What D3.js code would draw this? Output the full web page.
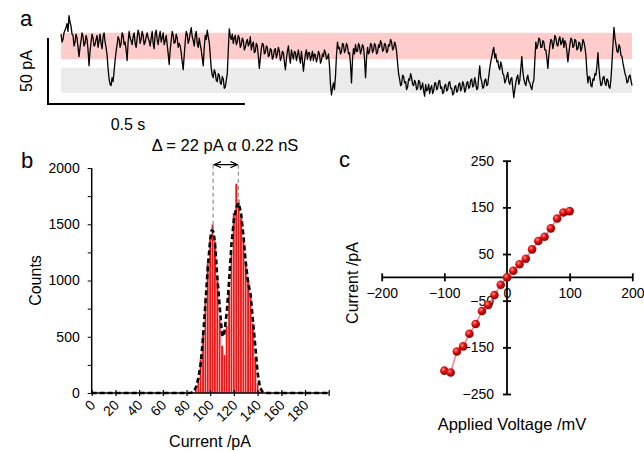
<!DOCTYPE html>
<html>
<head>
<meta charset="utf-8">
<script src="https://cdn.jsdelivr.net/npm/d3@7"></script>
<style>
  body { margin: 0; background: #fff; }
  svg text { font-family: "Liberation Sans", Arial, sans-serif; fill: #000; }
</style>
</head>
<body>
<div id="visual"></div>
<script>

// panel a - current trace (pA), equally spaced samples over traceDuration seconds
var traceDuration = 1.45;
var traceCurrent = [
    134, 128, 130, 135, 137, 139, 142, 136, 148, 143, 140, 134, 133, 125, 128, 134,
    131, 124, 117, 124, 129, 135, 132, 125, 127, 133, 130, 122, 110, 121, 128, 134,
    131, 125, 126, 130, 133, 124, 129, 134, 127, 123, 132, 135, 128, 124, 118, 108,
    100, 96, 95, 101, 98, 106, 114, 121, 126, 132, 130, 124, 127, 135, 133, 126,
    128, 122, 114, 128, 136, 131, 129, 126, 132, 135, 127, 124, 131, 137, 134, 127,
    130, 136, 133, 126, 128, 132, 135, 131, 129, 125, 131, 136, 127, 123, 134, 137,
    130, 126, 132, 136, 128, 131, 135, 126, 129, 133, 126, 119, 111, 122, 129, 136,
    133, 127, 128, 134, 131, 124, 127, 125, 120, 113, 107, 118, 128, 136, 134, 127,
    130, 135, 139, 132, 129, 125, 133, 136, 127, 124, 131, 126, 122, 116, 110, 124,
    133, 130, 137, 132, 128, 118,
    108, 103, 101, 107, 105, 99, 98, 104, 103, 97, 96, 102, 100, 93, 94, 99,
    104, 122, 138, 132, 130, 134, 127, 131, 133, 126, 128, 133, 131, 124, 126, 131,
    129, 122, 124, 128, 130, 125, 127, 132, 122, 126, 128, 120, 121, 127, 125, 117,
    108, 116, 123, 127, 126, 119, 120, 125, 124, 117, 118, 123, 122, 115, 117, 122,
    123, 116, 119, 124, 121, 114, 116, 121, 120, 113, 107, 115, 121, 125, 117, 112,
    122, 118, 115, 121, 120, 114, 118, 122, 116, 112, 121, 114, 106, 113, 119, 122,
    115, 120, 120, 114, 117, 121, 114, 119, 118, 113, 116, 121, 119, 112, 114, 119,
    117, 122, 120, 115, 116, 119, 110, 96, 88, 93, 97, 92, 102, 118, 128, 123,
    124, 119, 121, 127, 126, 120, 122, 127, 125, 119, 120, 111, 97, 115, 123, 119,
    126, 121, 121, 127, 125, 119, 122, 126, 124, 115, 101, 116, 124, 119, 121, 127,
    126, 120, 122, 127, 125, 119, 120, 126, 124, 129, 127, 121, 122, 127, 126, 120,
    121, 126, 125, 130, 128, 122, 123, 128, 126, 121, 112, 104, 100, 95, 96, 103,
    102, 97, 98, 92, 94, 100, 99, 104, 101, 96, 95, 99, 97, 92, 93, 99,
    98, 92, 94, 97, 91, 87, 96, 91, 92, 96, 89, 93, 95, 89, 91, 97,
    97, 92, 93, 98, 99, 93, 94, 89, 90, 95, 96, 91, 92, 97, 98, 93,
    93, 88, 89, 94, 95, 90, 91, 96, 97, 91, 93, 98, 96, 90, 92, 97,
    98, 93, 94, 99, 100, 94, 95, 101, 97, 92, 93, 102, 110, 101, 98, 93,
    94, 99, 100, 95, 96, 102, 108, 113, 117, 121, 124, 116, 119, 113, 114, 109,
    107, 113, 110, 104, 103, 97, 99, 102, 105, 98, 96, 100, 101, 93, 86, 92,
    97, 101, 103, 96, 99, 108, 117, 106, 100, 97, 95, 100, 103, 98, 97, 94,
    92, 97, 99, 114, 128, 123, 126, 131, 130, 124, 124, 129, 128, 122, 122, 116,
    108, 118, 125, 130, 129, 123, 127, 133, 131, 126, 125, 130, 132, 126, 128, 131,
    124, 129, 127, 121, 113, 120, 126, 131, 130, 124, 125, 130, 129, 122, 123, 128,
    127, 121, 124, 130, 128, 124, 118, 105, 97, 102, 101, 95, 94, 100, 99, 104,
    103, 110, 120, 108, 100, 95, 96, 101, 102, 97, 95, 100, 99, 94, 93, 100,
    112, 126, 139, 131, 126, 121, 120, 126, 124, 118, 117, 112, 108, 104, 102, 97,
    98, 102, 103, 99, 95
];
var openBand = [115, 135];
var closedBand = [89.5, 108.5];
var scaleBarCurrent = 50;   // pA
var scaleBarTime = 0.5;     // s

// panel b - histogram (2 pA bins, centre values) and fitted curve
var histCentres = [88, 90, 92, 94, 96, 98, 100, 102, 104, 106, 108, 110, 112, 114,
    116, 118, 120, 122, 124, 126, 128, 130, 132, 134, 136, 138, 140, 142];
var histCounts = [30, 120, 300, 550, 850, 1150, 1380, 1500, 1350, 1000, 650, 420, 340, 600,
    900, 1250, 1600, 1860, 1720, 1550, 1350, 1150, 1000, 850, 620, 320, 90, 15];
var fitCurrent = [0, 80, 84, 86, 88, 90, 92, 94, 96, 98, 100, 101, 102, 103, 104, 106, 108,
    110, 111, 112, 114, 116, 118, 120, 122, 124, 126, 128, 130, 132, 134, 136, 138, 140,
    142, 144, 146, 150, 200];
var fitCounts = [0, 0, 2, 10, 50, 130, 260, 500, 800, 1120, 1360, 1440, 1450, 1420, 1330,
    1030, 770, 520, 500, 540, 720, 1000, 1330, 1540, 1650, 1690, 1600, 1400, 1160, 980,
    880, 650, 420, 180, 50, 12, 0, 0, 0];
var peakLeft = 102.5, peakRight = 123.8;
var histXTicks = [0, 20, 40, 60, 80, 100, 120, 140, 160, 180, 200];
var histYTicks = [0, 250, 500, 750, 1000, 1250, 1500, 1750, 2000];
var histTitle = "\u0394 = 22 pA \u03b1 0.22 nS";

// panel c - I/V
var voltage = [-100, -90, -80, -70, -60, -50, -40, -30, -20, -10, 0,
    10, 20, 30, 40, 50, 60, 70, 80, 90, 100];
var ivCurrent = [-200, -204, -159, -148, -121, -100, -72, -59, -38, -16, 0,
    14, 28, 40, 60, 78, 87, 105, 126, 139, 142];
var ivXTicks = [-200, -100, 0, 100, 200];
var ivYTicks = [-250, -150, -50, 50, 150, 250];


function chart() {

    var w = 644, h = 451;
    var svg = d3.select("#visual").append("svg").attr("width", w).attr("height", h);

    var defs = svg.append("defs");
    var grad = defs.append("radialGradient").attr("id", "ball")
        .attr("cx", "38%").attr("cy", "35%").attr("r", "65%");
    grad.append("stop").attr("offset", "0%").attr("stop-color", "#ff8a8a");
    grad.append("stop").attr("offset", "45%").attr("stop-color", "#e31010");
    grad.append("stop").attr("offset", "100%").attr("stop-color", "#8a0000");

    // ---------- panel a ----------
    var ax = d3.scaleLinear().domain([0, traceDuration]).range([61, 632]);
    var ay = d3.scaleLinear().domain([75, 150]).range([112, 13]);

    svg.append("rect")
        .attr("x", ax(0)).attr("width", ax(traceDuration) - ax(0))
        .attr("y", ay(openBand[1])).attr("height", ay(openBand[0]) - ay(openBand[1]))
        .style("fill", "#ffcccc");
    svg.append("rect")
        .attr("x", ax(0)).attr("width", ax(traceDuration) - ax(0))
        .attr("y", ay(closedBand[1])).attr("height", ay(closedBand[0]) - ay(closedBand[1]))
        .style("fill", "#ebebeb");

    var dt = traceDuration / (traceCurrent.length - 1);
    var traceLine = d3.line()
        .x(function (d, i) { return ax(i * dt); })
        .y(function (d) { return ay(d); });

    svg.append("path")
        .datum(traceCurrent)
        .attr("d", traceLine)
        .attr("fill", "none")
        .attr("stroke", "#000")
        .attr("stroke-width", 1.3)
        .attr("stroke-linejoin", "round");

    // scale bars
    var barX = 48, barBottom = ay(81);
    svg.append("line")
        .attr("x1", barX).attr("x2", barX)
        .attr("y1", barBottom).attr("y2", ay(81 + scaleBarCurrent))
        .attr("stroke", "#000").attr("stroke-width", 2);
    svg.append("line")
        .attr("x1", barX - 1).attr("x2", barX + ax(scaleBarTime) - ax(0))
        .attr("y1", barBottom).attr("y2", barBottom)
        .attr("stroke", "#000").attr("stroke-width", 2);
    svg.append("text")
        .attr("transform", "translate(32," + (ay(81 + scaleBarCurrent / 2)) + ") rotate(-90)")
        .attr("text-anchor", "middle")
        .attr("font-size", "16px")
        .text(scaleBarCurrent + " pA");
    svg.append("text")
        .attr("x", 128).attr("y", 130)
        .attr("text-anchor", "middle")
        .attr("font-size", "16px")
        .text(scaleBarTime + " s");
    svg.append("text").attr("x", 20).attr("y", 26).attr("font-size", "22px").text("a");

    // ---------- panel b ----------
    var bx = d3.scaleLinear().domain([0, 200]).range([91.7, 328.7]);
    var by = d3.scaleLinear().domain([0, 2000]).range([393, 168]);
    var binW = 2;

    svg.selectAll("rect.bin")
        .data(histCounts)
        .enter()
        .append("rect")
        .attr("class", "bin")
        .attr("x", function (d, i) { return bx(histCentres[i] - binW / 2); })
        .attr("width", bx(binW) - bx(0))
        .attr("y", function (d) { return by(d); })
        .attr("height", function (d) { return by(0) - by(d); })
        .style("fill", "#f01414")
        .style("stroke", "#ffd0d0")
        .style("stroke-width", 0.5);

    var fitLine = d3.line()
        .x(function (d, i) { return bx(fitCurrent[i]); })
        .y(function (d) { return by(d); });
    svg.append("path")
        .datum(fitCounts)
        .attr("d", fitLine)
        .attr("fill", "none")
        .attr("stroke", "#000")
        .attr("stroke-width", 2.6)
        .attr("stroke-dasharray", "5,3");

    var yAxisB = svg.append("g")
        .attr("transform", "translate(" + bx(0) + ",0)")
        .call(d3.axisLeft(by).tickValues(histYTicks).tickSize(4).tickPadding(8)
            .tickFormat(function (d) { return d % 500 === 0 ? d : ""; }));
    yAxisB.select(".domain").attr("stroke-width", 1.5).attr("d", "M0," + by(2000) + "V" + by(0));
    yAxisB.selectAll("text").attr("font-size", "14px").attr("font-family", "Liberation Sans, Arial, sans-serif");

    var xAxisB = svg.append("g")
        .attr("transform", "translate(0," + by(0) + ")")
        .call(d3.axisBottom(bx).tickValues(histXTicks).tickSize(3)
            .tickFormat(function (d) { return d < 200 ? d : ""; }));
    xAxisB.select(".domain").attr("stroke-width", 1.5).attr("d", "M" + bx(0) + ",0H" + bx(200));
    xAxisB.selectAll(".tick line").attr("y1", -3).attr("y2", 3).attr("stroke-width", 1.2);
    xAxisB.selectAll("text")
        .attr("font-size", "14px")
        .attr("font-family", "Liberation Sans, Arial, sans-serif")
        .attr("text-anchor", "end")
        .attr("y", 0).attr("dy", 0)
        .attr("transform", "translate(4,13) rotate(-45)");

    svg.append("text")
        .attr("transform", "translate(41," + by(1000) + ") rotate(-90)")
        .attr("text-anchor", "middle")
        .attr("font-size", "16px")
        .text("Counts");
    svg.append("text")
        .attr("x", 210).attr("y", 447)
        .attr("text-anchor", "middle")
        .attr("font-size", "16px")
        .text("Current /pA");
    svg.append("text").attr("x", 21).attr("y", 168).attr("font-size", "22px").text("b");

    // delta annotation
    var annotTop = 2030;
    [[peakLeft, 1450], [peakRight, 1690]].forEach(function (p) {
        svg.append("line")
            .attr("x1", bx(p[0])).attr("x2", bx(p[0]))
            .attr("y1", by(annotTop)).attr("y2", by(p[1]))
            .attr("stroke", "#999").attr("stroke-width", 1.3)
            .attr("stroke-dasharray", "4,3");
    });
    defs.append("marker").attr("id", "arr").attr("viewBox", "0 0 10 10")
        .attr("refX", 9).attr("refY", 5).attr("markerWidth", 6).attr("markerHeight", 6)
        .attr("orient", "auto-start-reverse")
        .append("path").attr("d", "M0,1 L9,5 L0,9").attr("fill", "none")
        .attr("stroke", "#000").attr("stroke-width", 1.6);
    svg.append("line")
        .attr("x1", bx(peakLeft) + 1).attr("x2", bx(peakRight) - 1)
        .attr("y1", by(annotTop)).attr("y2", by(annotTop))
        .attr("stroke", "#000").attr("stroke-width", 1.3)
        .attr("marker-start", "url(#arr)").attr("marker-end", "url(#arr)");
    svg.append("text")
        .attr("x", 225).attr("y", 151)
        .attr("text-anchor", "middle")
        .attr("font-size", "16.5px")
        .text(histTitle);

    // ---------- panel c ----------
    var cx = d3.scaleLinear().domain([-200, 200]).range([381.7, 632.3]);
    var cy = d3.scaleLinear().domain([-250, 250]).range([394, 160.7]);

    var xAxisC = svg.append("g")
        .attr("transform", "translate(0," + cy(0) + ")")
        .call(d3.axisBottom(cx).tickValues(ivXTicks).tickSize(4).tickPadding(6));
    xAxisC.select(".domain").attr("stroke-width", 1.8).attr("d", "M" + cx(-200) + ",0H" + cx(200));
    xAxisC.selectAll(".tick line").attr("y1", -4).attr("y2", 4).attr("stroke-width", 1.8);
    xAxisC.selectAll("text").attr("font-size", "14px").attr("font-family", "Liberation Sans, Arial, sans-serif")
        .attr("y", 11);

    var yAxisC = svg.append("g")
        .attr("transform", "translate(" + cx(0) + ",0)")
        .call(d3.axisLeft(cy).tickValues(ivYTicks).tickSize(4).tickPadding(9));
    yAxisC.select(".domain").attr("stroke-width", 1.8).attr("d", "M0," + cy(250) + "V" + cy(-250));
    yAxisC.selectAll(".tick line").attr("x1", -4).attr("x2", 4).attr("stroke-width", 1.8);
    yAxisC.selectAll("text").attr("font-size", "14px").attr("font-family", "Liberation Sans, Arial, sans-serif");

    var ivLine = d3.line()
        .x(function (d, i) { return cx(voltage[i]); })
        .y(function (d) { return cy(d); });
    svg.append("path")
        .datum(ivCurrent)
        .attr("d", ivLine)
        .attr("fill", "none")
        .attr("stroke", "#f08a8a")
        .attr("stroke-width", 1.6);

    svg.selectAll("circle.iv")
        .data(ivCurrent)
        .enter()
        .append("circle")
        .attr("class", "iv")
        .attr("cx", function (d, i) { return cx(voltage[i]); })
        .attr("cy", function (d) { return cy(d); })
        .attr("r", 4.3)
        .style("fill", "url(#ball)");

    svg.append("text")
        .attr("transform", "translate(358,283) rotate(-90)")
        .attr("text-anchor", "middle")
        .attr("font-size", "16px")
        .text("Current /pA");
    svg.append("text")
        .attr("x", 512).attr("y", 430)
        .attr("text-anchor", "middle")
        .attr("font-size", "16.5px")
        .text("Applied Voltage /mV");
    svg.append("text").attr("x", 339).attr("y", 167).attr("font-size", "22px").text("c");
}

function init() {
    chart();
}

window.onload = init;
</script>
</body>
</html>
